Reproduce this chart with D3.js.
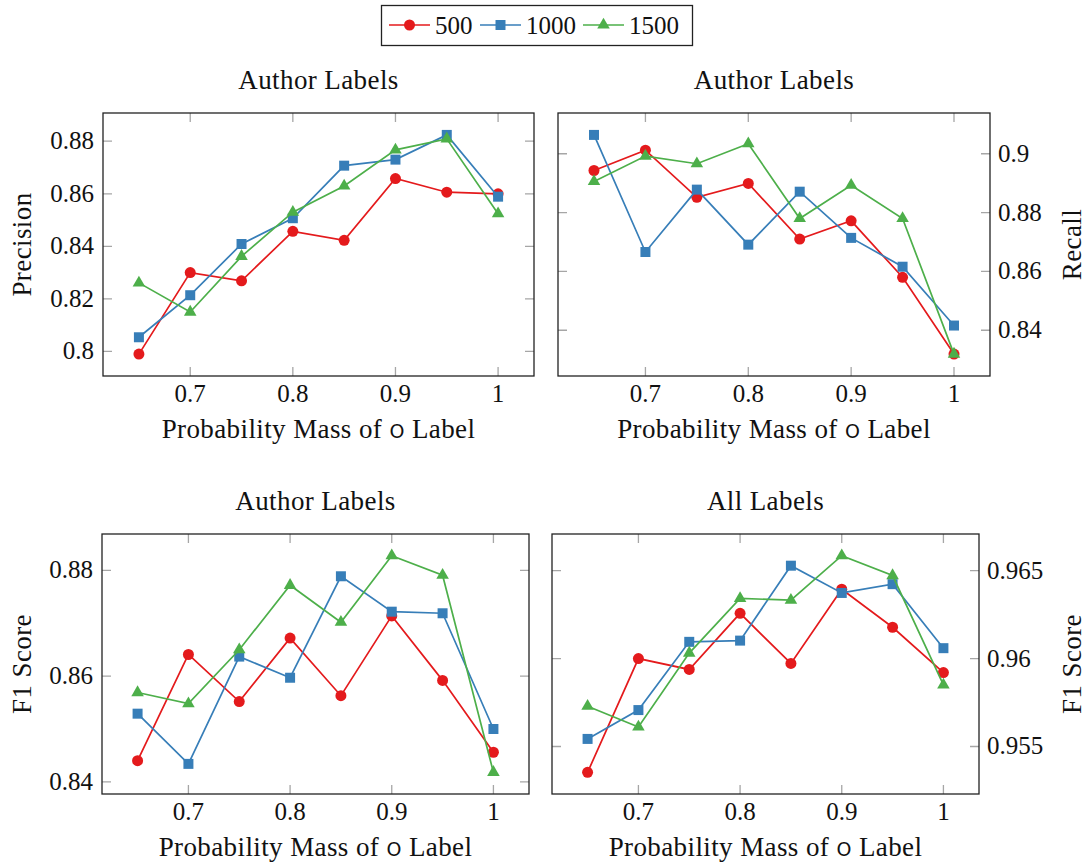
<!DOCTYPE html>
<html>
<head>
<meta charset="utf-8">
<script src="https://cdn.jsdelivr.net/npm/d3@7"></script>
<style>
  body { margin: 0; background: #fff; }
</style>
</head>
<body>
<div id="chart"></div>
<script>
// x values shared by all panels
const massValues = [0.65, 0.7, 0.75, 0.8, 0.85, 0.9, 0.95, 1];
const seriesNames = ["500", "1000", "1500"];
const xTickValues = [0.7, 0.8, 0.9, 1];

// precision (author labels)
const precision500 = [0.7990, 0.8300, 0.8269, 0.8457, 0.8423, 0.8658, 0.8606, 0.8600];
const precision1000 = [0.8054, 0.8214, 0.8409, 0.8507, 0.8707, 0.8730, 0.8824, 0.8589];
const precision1500 = [0.8261, 0.8150, 0.8362, 0.8530, 0.8630, 0.8767, 0.8809, 0.8524];
const precisionTicks = [0.8, 0.82, 0.84, 0.86, 0.88];

// recall (author labels)
const recall500 = [0.8943, 0.9012, 0.8852, 0.8899, 0.8710, 0.8772, 0.8580, 0.8319];
const recall1000 = [0.9064, 0.8666, 0.8878, 0.8691, 0.8871, 0.8714, 0.8616, 0.8416];
const recall1500 = [0.8906, 0.8992, 0.8966, 0.9034, 0.8780, 0.8893, 0.8780, 0.8319];
const recallTicks = [0.84, 0.86, 0.88, 0.9];

// f1 (author labels)
const f1Author500 = [0.8440, 0.8641, 0.8552, 0.8672, 0.8563, 0.8714, 0.8592, 0.8456];
const f1Author1000 = [0.8529, 0.8434, 0.8637, 0.8597, 0.8789, 0.8722, 0.8719, 0.8500];
const f1Author1500 = [0.8569, 0.8548, 0.8650, 0.8772, 0.8702, 0.8828, 0.8791, 0.8418];
const f1AuthorTicks = [0.84, 0.86, 0.88];

// f1 (all labels)
const f1All500 = [0.95353, 0.96000, 0.95938, 0.96257, 0.95972, 0.96394, 0.96178, 0.95920];
const f1All1000 = [0.95543, 0.95707, 0.96095, 0.96102, 0.96528, 0.96373, 0.96423, 0.96059];
const f1All1500 = [0.95729, 0.95611, 0.96031, 0.96342, 0.96332, 0.96585, 0.96472, 0.95850];
const f1AllTicks = [0.955, 0.96, 0.965];

const colors = ["#e41a1c", "#377eb8", "#4daf4a"];
const symbols = [d3.symbolCircle, d3.symbolSquare, d3.symbolTriangle];
const symbolSizes = [95, 100, 68];
const serif = "'Liberation Serif', 'DejaVu Serif', 'Times New Roman', serif";

const svg = d3.select("#chart")
    .append("svg")
        .attr("width", 1088)
        .attr("height", 864)
        .attr("font-family", serif)
        .attr("fill", "#111");

const panels = [
    { title: "Author Labels", ylabel: "Precision", side: "left", ticks: precisionTicks,
      series: [precision500, precision1000, precision1500], x0: 103, x1: 534, y0: 113, y1: 376 },
    { title: "Author Labels", ylabel: "Recall", side: "right", ticks: recallTicks,
      series: [recall500, recall1000, recall1500], x0: 558, x1: 990, y0: 113, y1: 376 },
    { title: "Author Labels", ylabel: "F1 Score", side: "left", ticks: f1AuthorTicks,
      series: [f1Author500, f1Author1000, f1Author1500], x0: 102, x1: 529, y0: 534, y1: 794 },
    { title: "All Labels", ylabel: "F1 Score", side: "right", ticks: f1AllTicks,
      series: [f1All500, f1All1000, f1All1500], x0: 552, x1: 979, y0: 534, y1: 794 }
];

// pgfplots style: enlarge limits by 10% of the data range
function enlarged(ext) {
    const pad = (ext[1] - ext[0]) * 0.1;
    return [ext[0] - pad, ext[1] + pad];
}

const fmt = v => String(+v.toFixed(3));

panels.forEach(p => {
    const x = d3.scaleLinear()
        .domain(enlarged(d3.extent(massValues)))
        .range([p.x0, p.x1]);
    const y = d3.scaleLinear()
        .domain(enlarged(d3.extent(p.series.flat())))
        .range([p.y1, p.y0]);

    const g = svg.append("g");

    // grey tick marks on all four sides
    const tickLen = 9;
    g.selectAll(".xt").data(xTickValues).enter()
        .append("path")
        .attr("d", d => `M${x(d)},${p.y1}v${-tickLen}M${x(d)},${p.y0}v${tickLen}`)
        .attr("stroke", "#a6a6a6").attr("stroke-width", 1.3);
    g.selectAll(".yt").data(p.ticks).enter()
        .append("path")
        .attr("d", d => `M${p.x0},${y(d)}h${tickLen}M${p.x1},${y(d)}h${-tickLen}`)
        .attr("stroke", "#a6a6a6").attr("stroke-width", 1.3);

    // frame
    g.append("rect")
        .attr("x", p.x0).attr("y", p.y0)
        .attr("width", p.x1 - p.x0).attr("height", p.y1 - p.y0)
        .attr("fill", "none").attr("stroke", "#222").attr("stroke-width", 1.3);

    // x tick labels
    g.selectAll(".xl").data(xTickValues).enter()
        .append("text")
        .attr("x", d => x(d))
        .attr("y", p.y1 + 26)
        .attr("text-anchor", "middle")
        .attr("font-size", 25)
        .text(fmt);

    // y tick labels
    const left = p.side === "left";
    g.selectAll(".yl").data(p.ticks).enter()
        .append("text")
        .attr("x", left ? p.x0 - 9 : p.x1 + 8)
        .attr("y", d => y(d) + 8)
        .attr("text-anchor", left ? "end" : "start")
        .attr("font-size", 25)
        .text(fmt);

    // title
    g.append("text")
        .attr("x", (p.x0 + p.x1) / 2)
        .attr("y", p.y0 - 24)
        .attr("text-anchor", "middle")
        .attr("font-size", 27)
        .attr("letter-spacing", 0.4)
        .text(p.title);

    // x label
    const xl = g.append("text")
        .attr("x", (p.x0 + p.x1) / 2)
        .attr("y", p.y1 + 62)
        .attr("text-anchor", "middle")
        .attr("font-size", 27)
        .attr("letter-spacing", 0.4);
    xl.append("tspan").text("Probability Mass of ");
    xl.append("tspan").attr("font-family", "'DejaVu Sans', sans-serif")
        .attr("font-size", 19).text("O");
    xl.append("tspan").text(" Label");

    // y label
    const lx = left ? 31 : 1081;
    g.append("text")
        .attr("transform", `translate(${lx},${(p.y0 + p.y1) / 2}) rotate(-90)`)
        .attr("text-anchor", "middle")
        .attr("font-size", 27)
        .attr("letter-spacing", 0.4)
        .text(p.ylabel);

    // lines and marks
    const line = d3.line()
        .x((d, i) => x(massValues[i]))
        .y(d => y(d));

    p.series.forEach((vals, si) => {
        g.append("path")
            .attr("d", line(vals))
            .attr("fill", "none")
            .attr("stroke", colors[si])
            .attr("stroke-width", 1.7);
        g.selectAll(".m" + si).data(vals).enter()
            .append("path")
            .attr("transform", (d, i) => `translate(${x(massValues[i])},${y(d)})`)
            .attr("d", d3.symbol().type(symbols[si]).size(symbolSizes[si]))
            .attr("fill", colors[si]);
    });
});

// legend
const legend = svg.append("g");
legend.append("rect")
    .attr("x", 381.5).attr("y", 5.5)
    .attr("width", 311).attr("height", 40)
    .attr("fill", "#fff").attr("stroke", "#222").attr("stroke-width", 1.3);

const legendX = [389, 480, 583];
const legendItem = legend.selectAll(".legend")
    .data(seriesNames)
    .enter()
    .append("g")
    .attr("transform", (d, i) => `translate(${legendX[i]},25)`);

legendItem.append("line")
    .attr("x1", 0).attr("x2", 41)
    .attr("stroke", (d, i) => colors[i])
    .attr("stroke-width", 1.7);
legendItem.append("path")
    .attr("transform", "translate(20.5,0)")
    .attr("d", (d, i) => d3.symbol().type(symbols[i]).size(symbolSizes[i])())
    .attr("fill", (d, i) => colors[i]);
legendItem.append("text")
    .attr("x", 46)
    .attr("y", 8.5)
    .attr("font-size", 25)
    .text(d => d);
</script>
</body>
</html>
